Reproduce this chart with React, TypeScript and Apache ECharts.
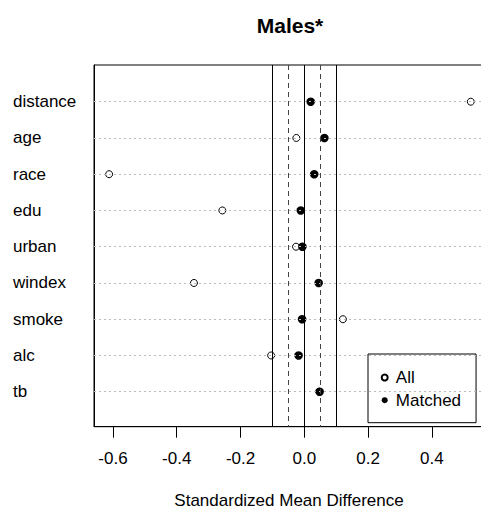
import React, { useEffect, useRef } from "react";
import * as echarts from "echarts";

const categories = ["distance", "age", "race", "edu", "urban", "windex", "smoke", "alc", "tb"];
const allValues = [0.522, -0.025, -0.612, -0.257, -0.026, -0.346, 0.121, -0.104, 0.047];
const matchedValues = [0.02, 0.063, 0.031, -0.011, -0.006, 0.045, -0.007, -0.018, 0.048];
const xTicks = [-0.6, -0.4, -0.2, 0.0, 0.2, 0.4];
const solidRefs = [-0.1, 0, 0.1];
const dashedRefs = [-0.05, 0.05];

const FONT = "'Liberation Sans', Arial, sans-serif";

export default function App() {
  const ref = useRef<HTMLDivElement>(null);
  useEffect(() => {
    if (!ref.current) return;
    const chart = echarts.init(ref.current, undefined, { renderer: "svg" });
    const rows = categories.map((_, i) => i + 1);
    chart.setOption({
      animation: false,
      textStyle: { fontFamily: FONT },
      title: {
        text: "Males*",
        left: 285,
        top: 10,
        textAlign: "center",
        textStyle: { fontFamily: FONT, fontSize: 21, fontWeight: "bold", color: "#000" },
      },
      grid: {
        left: 94,
        right: -3,
        top: 65,
        bottom: 83.3,
        show: true,
        borderColor: "#000",
        borderWidth: 1,
        backgroundColor: "transparent",
        outerBoundsMode: "none",
        containLabel: false,
      },
      legend: {
        data: ["All", "Matched"],
        orient: "vertical",
        left: 368,
        top: 354,
        borderColor: "#000",
        borderWidth: 1,
        padding: [15, 15, 14, 12.7],
        itemWidth: 12.3,
        itemHeight: 6,
        itemGap: 5.7,
        textStyle: { fontFamily: FONT, fontSize: 17, color: "#000", lineHeight: 17 },
        backgroundColor: "#fff",
      },
      xAxis: {
        type: "value",
        min: -0.6594,
        max: 0.5634,
        name: "Standardized Mean Difference",
        nameLocation: "middle",
        nameGap: 65.5,
        nameTextStyle: { fontFamily: FONT, fontSize: 17, color: "#000", lineHeight: 17 },
        axisLine: { show: true, onZero: false, lineStyle: { color: "#000", width: 1 } },
        axisTick: { show: true, length: 11, customValues: xTicks, lineStyle: { color: "#000" } },
        axisLabel: {
          customValues: xTicks,
          margin: 23,
          fontFamily: FONT,
          fontSize: 17,
          color: "#000",
          formatter: (v: number) => v.toFixed(1),
        },
        splitLine: { show: false },
      },
      yAxis: {
        type: "value",
        min: -0.0125,
        max: 9.965,
        inverse: true,
        axisLine: { show: true, onZero: false, lineStyle: { color: "#000", width: 1 } },
        axisTick: { show: false },
        splitLine: { show: false },
        axisLabel: {
          customValues: rows,
          align: "left",
          margin: 81,
          padding: [6, 0, 0, 0],
          fontFamily: FONT,
          fontSize: 17,
          color: "#000",
          formatter: (v: number) => categories[Math.round(v) - 1] ?? "",
        },
      },
      series: [
        {
          name: "refs",
          type: "scatter",
          data: [],
          z: 1,
          silent: true,
          markLine: {
            silent: true,
            symbol: "none",
            label: { show: false },
            data: [
              ...rows.map((r) => ({
                yAxis: r,
                lineStyle: { color: "#bbb", type: [2, 3], width: 1 },
              })),
              ...solidRefs.map((v) => ({
                xAxis: v,
                lineStyle: { color: "#000", type: "solid", width: 1 },
              })),
              ...dashedRefs.map((v) => ({
                xAxis: v,
                lineStyle: { color: "#444", type: [5, 4], width: 1 },
              })),
            ],
          },
        },
        {
          name: "All",
          type: "scatter",
          z: 3,
          symbol: "circle",
          symbolSize: 7,
          itemStyle: { color: "#fff", borderColor: "#000", borderWidth: 1, opacity: 1 },
          data: allValues.map((v, i) => [v, i + 1]),
        },
        {
          name: "Matched",
          type: "scatter",
          z: 4,
          symbol: "circle",
          symbolSize: 8.5,
          itemStyle: { color: "#000", opacity: 1 },
          data: matchedValues.map((v, i) => [v, i + 1]),
        },
      ],
    });
    return () => chart.dispose();
  }, []);
  return (
    <div
      ref={ref}
      style={{ position: "fixed", left: 0, top: 0, width: 481, height: 510, overflow: "hidden", background: "#fff" }}
    />
  );
}
